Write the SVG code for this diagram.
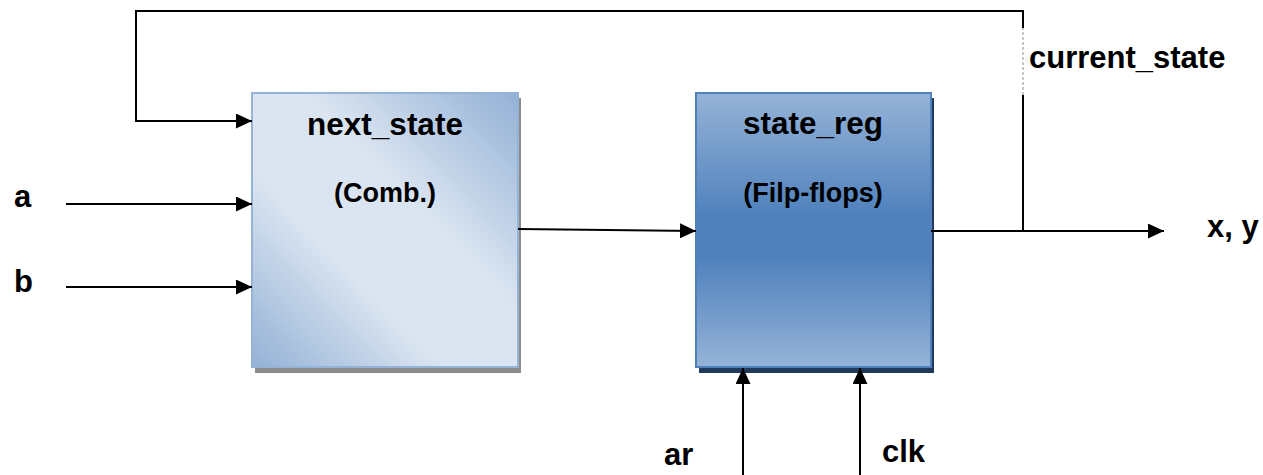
<svg xmlns="http://www.w3.org/2000/svg" width="1263" height="475" viewBox="0 0 1263 475">
  <style>
    .lbl { font-family: "Liberation Sans", Arial, sans-serif; font-weight: bold; fill: #000; }
    .title { font-size: 31.5px; text-anchor: middle; }
    .sub { font-size: 27px; text-anchor: middle; }
    .sig { font-size: 31px; }
    .wire { fill: none; stroke: #000; stroke-width: 2; }
  </style>
  <defs>
    <!-- diagonal band shading for the combinational block -->
    <linearGradient id="combFill" x1="0" y1="1" x2="1" y2="0">
      <stop offset="0" stop-color="#93b1d6"/>
      <stop offset="0.36" stop-color="#dbe5f1"/>
      <stop offset="0.6" stop-color="#dbe5f1"/>
      <stop offset="1" stop-color="#93b1d6"/>
    </linearGradient>
    <!-- vertical shading for the register block -->
    <linearGradient id="regFill" x1="0" y1="0" x2="0" y2="1">
      <stop offset="0" stop-color="#95b3d7"/>
      <stop offset="0.45" stop-color="#4f81bd"/>
      <stop offset="0.6" stop-color="#4f81bd"/>
      <stop offset="1" stop-color="#95b3d7"/>
    </linearGradient>
    <marker id="arrow" markerUnits="userSpaceOnUse" markerWidth="16" markerHeight="15" refX="16" refY="7.5" orient="auto">
      <path d="M0,0 L16,7.5 L0,15 z" fill="#000"/>
    </marker>
  </defs>

  <g id="next_state">
    <rect x="255" y="98" width="266" height="275" fill="#8c8c8c"/>
    <rect x="252" y="93" width="266" height="274" fill="url(#combFill)" stroke="#95b3d7" stroke-width="2"/>
    <text class="lbl title" x="385" y="135">next_state</text>
    <text class="lbl sub" x="385" y="202">(Comb.)</text>
  </g>

  <g id="state_reg">
    <rect x="699" y="98" width="235" height="275" fill="#213a5c"/>
    <rect x="696" y="93" width="235" height="274" fill="url(#regFill)" stroke="#4f81bd" stroke-width="2"/>
    <text class="lbl title" x="813" y="134">state_reg</text>
    <text class="lbl sub" x="813" y="202">(Filp-flops)</text>
  </g>

  <g id="connectors">
    <!-- inputs -->
    <line class="wire" x1="66" y1="204" x2="252" y2="204" marker-end="url(#arrow)"/>
    <line class="wire" x1="66" y1="287" x2="252" y2="287" marker-end="url(#arrow)"/>
    <!-- next state into register -->
    <line class="wire" x1="518" y1="229" x2="696" y2="231" marker-end="url(#arrow)"/>
    <!-- register output -->
    <line class="wire" x1="931" y1="231" x2="1164" y2="231" marker-end="url(#arrow)"/>
    <!-- current_state feedback -->
    <polyline class="wire" points="1023,231 1023,95"/>
    <line x1="1023" y1="95" x2="1023" y2="28" stroke="#b8b8b8" stroke-width="1.5" stroke-dasharray="3 2"/>
    <polyline class="wire" points="1023,28 1023,11 136,11 136,121 252,121" marker-end="url(#arrow)"/>
    <!-- reset and clock -->
    <line class="wire" x1="743" y1="475" x2="743" y2="368" marker-end="url(#arrow)"/>
    <line class="wire" x1="860" y1="475" x2="860" y2="368" marker-end="url(#arrow)"/>
  </g>

  <g id="labels">
    <text class="lbl sig" x="14" y="207">a</text>
    <text class="lbl sig" x="14" y="292">b</text>
    <text class="lbl sig" x="1029" y="68">current_state</text>
    <text class="lbl sig" x="1207" y="237">x, y</text>
    <text class="lbl sig" x="664" y="465">ar</text>
    <text class="lbl sig" x="882" y="462">clk</text>
  </g>
</svg>
